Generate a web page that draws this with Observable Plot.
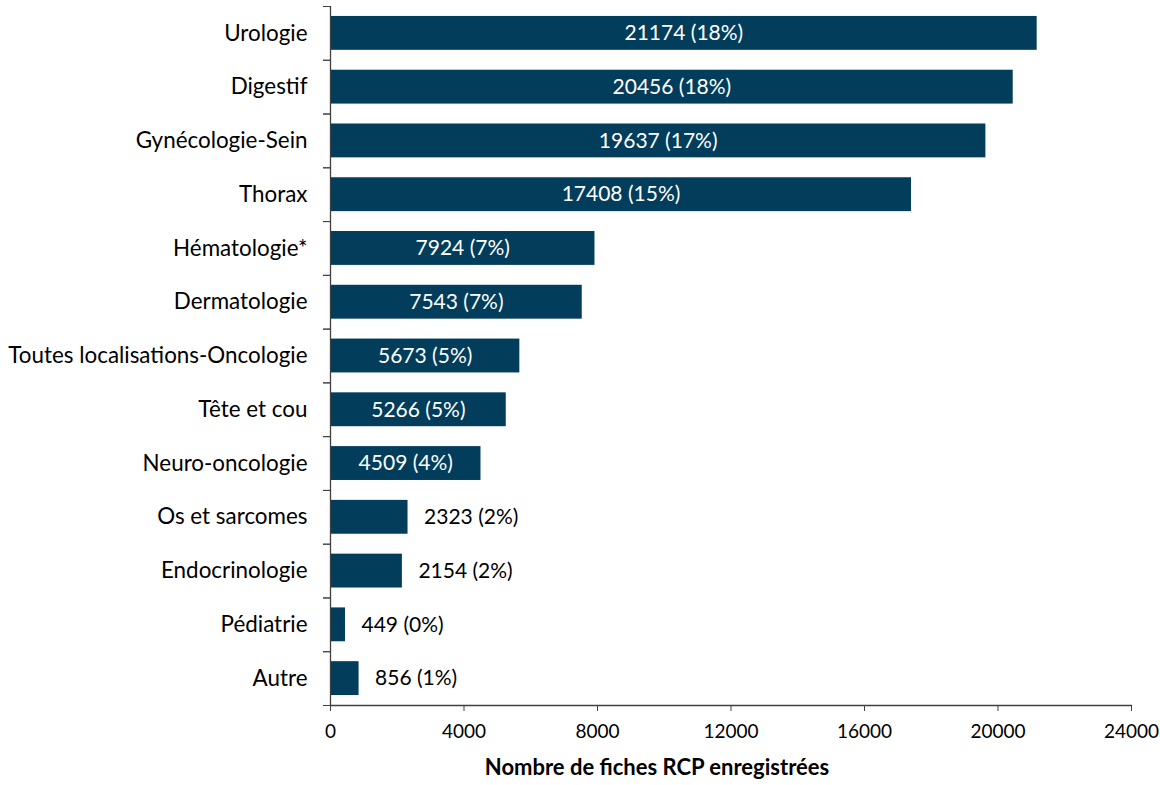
<!DOCTYPE html>
<html>
<head>
<meta charset="utf-8">
<script src="https://cdn.jsdelivr.net/npm/d3@7"></script>
<script src="https://cdn.jsdelivr.net/npm/@observablehq/plot@0.6"></script>
<style>
  html, body { margin: 0; padding: 0; background: #fff; }
  #chart svg { display: block; }
</style>
</head>
<body>
<div id="chart"></div>
<script>
const categories = ["Urologie", "Digestif", "Gynécologie-Sein", "Thorax", "Hématologie*", "Dermatologie",
  "Toutes localisations-Oncologie", "Tête et cou", "Neuro-oncologie", "Os et sarcomes", "Endocrinologie",
  "Pédiatrie", "Autre"];
const counts = [21174, 20456, 19637, 17408, 7924, 7543, 5673, 5266, 4509, 2323, 2154, 449, 856];
const percents = [18, 18, 17, 15, 7, 7, 5, 5, 4, 2, 2, 0, 1];
const xTicks = [0, 4000, 8000, 12000, 16000, 20000, 24000];
const xTitle = "Nombre de fiches RCP enregistrées";

const data = categories.map((c, i) => ({
  cat: c, value: counts[i], label: `${counts[i]} (${percents[i]}%)`, inside: counts[i] >= 4000
}));

const W = 1160, H = 785;
const mTop = 6, mBottom = 80, mLeft = 330, mRight = 29;
const step = (H - mTop - mBottom) / categories.length;
const font = "Lato, 'Open Sans', sans-serif";
const barColor = "#023d5c";
const axisColor = "#404040";

const chart = Plot.plot({
  width: W, height: H,
  marginTop: mTop, marginBottom: mBottom, marginLeft: mLeft, marginRight: mRight,
  style: { fontFamily: font, fontSize: "21px", color: "#000", background: "#fff" },
  x: { domain: [0, 24000], ticks: xTicks, label: null },
  y: { domain: categories, paddingInner: 0.37, paddingOuter: 0.185, round: false, label: null },
  marks: [
    Plot.barX(data, { x: "value", y: "cat", fill: barColor }),
    Plot.text(data.filter(d => d.inside), {
      x: d => d.value / 2, y: "cat", text: "label", fill: "#fff", fontSize: 21
    }),
    Plot.text(data.filter(d => !d.inside), {
      x: "value", y: "cat", text: "label", fill: "#000", fontSize: 21, textAnchor: "start", dx: 16
    }),
    Plot.ruleX([0], { stroke: axisColor, strokeWidth: 1.3 }),
    Plot.frame({ anchor: "bottom", stroke: axisColor, strokeWidth: 1.3 }),
    Plot.axisX({ ticks: xTicks, tickSize: 6, tickPadding: 13, stroke: axisColor, fontSize: 19, tickFormat: d => String(d), label: null }),
    Plot.axisY({ tickSize: 0, tickPadding: 23, fontSize: 22.4, label: null }),
    Plot.axisY({ tickSize: 7, tickFormat: null, stroke: axisColor, dy: step / 2, label: null }),
    Plot.axisY({ tickSize: 7, tickFormat: null, stroke: axisColor, dy: -step / 2, label: null }),
    Plot.text([xTitle], { frameAnchor: "bottom", dy: 69, dx: -74, fontWeight: "bold", fontSize: 22, fill: "#000" })
  ]
});
document.getElementById("chart").appendChild(chart);
</script>
</body>
</html>
